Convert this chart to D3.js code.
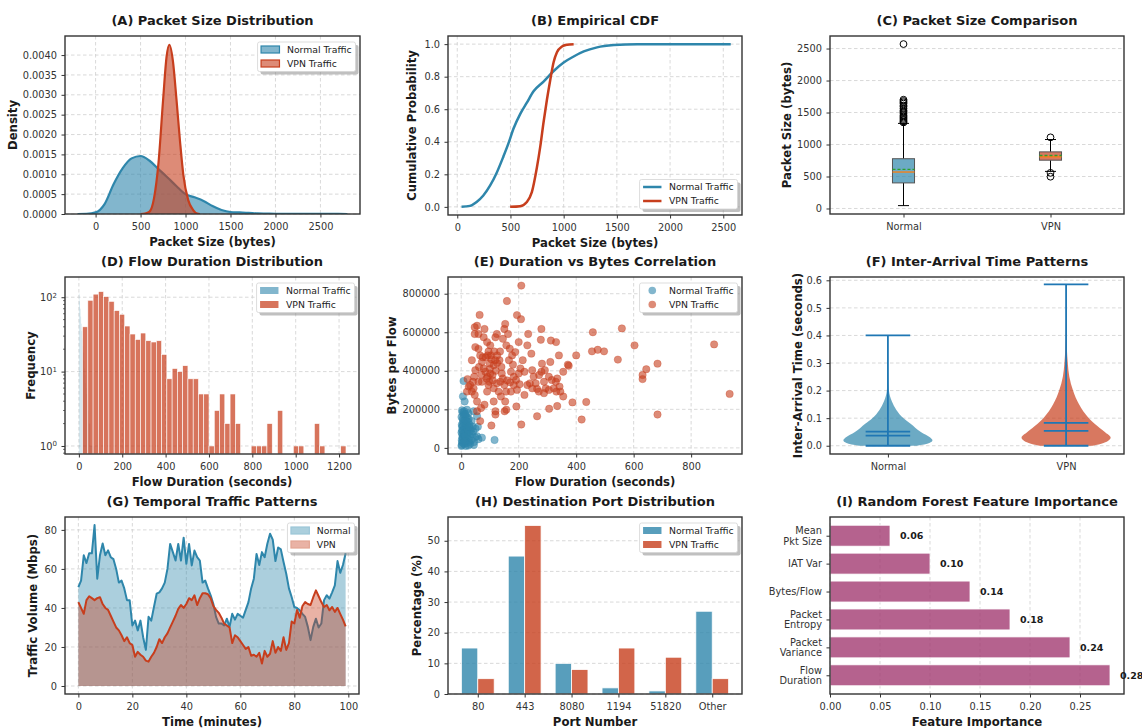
<!DOCTYPE html>
<html>
<head>
<meta charset="utf-8">
<script src="https://d3js.org/d3.v7.min.js"></script>
<style>
  body { margin: 0; background: #fff; }
  svg text { font-family: "DejaVu Sans", sans-serif; fill: #1a1a1a; }
  .title { font-size: 13px; font-weight: bold; }
  .xlab, .ylab { font-size: 11.7px; font-weight: bold; }
  .tick text { font-size: 9.8px; fill: #333; }
  .tick line { stroke: #333; }
  .grid line { stroke: #cfcfcf; stroke-dasharray: 3.5,2.5; stroke-width: 0.8; }
  .frame { fill: none; stroke: #333; stroke-width: 1.4; }
  .leg text { font-size: 9.3px; fill: #222; }
  .vlab { font-size: 9.5px; font-weight: bold; }
</style>
</head>
<body>
<svg id="fig" width="1142" height="728"></svg>
<script>
const normalColor = "#2E86AB", vpnColor = "#C73E1D", featColor = "#A23B72", violinLine = "#1f77b4";

// (A) packet size density (KDE)
const kdeNormX = [-200, -100, 0, 100, 200, 300, 400, 500, 600, 700, 800, 900, 1000, 1100, 1200, 1300, 1400, 1500, 1600, 1700, 1800, 1900, 2000, 2200, 2400, 2550, 2700, 2800];
const kdeNormY = [0, 0.000005, 0.00004, 0.00025, 0.00075, 0.00115, 0.0014, 0.00146, 0.00134, 0.00113, 0.00092, 0.0007, 0.0005, 0.00042, 0.00033, 0.0002, 0.0001, 0.00005, 0.00004, 0.00003, 0.000015, 0.00001, 0.000005, 0.000002, 0.000003, 0.000004, 0.000001, 0];
const kdeVpnX = [500, 550, 600, 650, 700, 750, 790, 820, 860, 900, 940, 975, 1030, 1085, 1130, 1160];
const kdeVpnY = [0, 0.00001, 0.00006, 0.0004, 0.0013, 0.00285, 0.00397, 0.00426, 0.00385, 0.00287, 0.0018, 0.001, 0.00035, 0.0001, 0.00001, 0];

// (B) empirical CDF
const cdfNormX = [40, 119, 182, 245, 308, 371, 434, 481, 528, 591, 654, 717, 811, 906, 1000, 1094, 1189, 1314, 1472, 1692, 2570];
const cdfNormY = [0, 0.006, 0.03, 0.07, 0.13, 0.21, 0.31, 0.39, 0.48, 0.57, 0.64, 0.71, 0.77, 0.835, 0.887, 0.924, 0.955, 0.98, 0.994, 1, 1];
const cdfVpnX = [497, 591, 654, 701, 748, 780, 811, 843, 874, 906, 937, 984, 1031, 1094];
const cdfVpnY = [0, 0.004, 0.03, 0.09, 0.24, 0.37, 0.52, 0.66, 0.78, 0.89, 0.95, 0.985, 0.996, 1];

// (C) box plot summary
const boxNames = ["Normal", "VPN"];
const boxQ1 = [400, 755];
const boxMedian = [570, 808];
const boxQ3 = [778, 885];
const boxMean = [612, 828];
const boxLow = [45, 580];
const boxHigh = [1330, 1078];
const outNormal = [1345, 1360, 1380, 1400, 1420, 1440, 1460, 1490, 1510, 1530, 1560, 1590, 1610, 1640, 1660, 1680, 1700, 2570];
const outVpn = [1112, 557, 497];

// (D) flow duration histograms (log counts)
const vpnDurStart = 17, vpnDurBin = 24.3;
const vpnDurCounts = [40, 91, 110, 119, 102, 88, 66, 59, 41, 32, 27, 33, 26, 25, 26, 17, 8, 11, 10, 12, 8, 8, 5, 5, 1,
  3, 5, 2, 5, 2, 0, 0, 1, 1, 1, 2, 0, 3, 0, 0, 1, 1, 0, 0, 2, 1, 0, 0, 0, 1];
const normDurStart = 0.1, normDurBin = 2.5;
const normDurCounts = [112, 88, 70, 55, 44, 35, 28, 22, 18, 14, 11, 9, 7, 6, 5, 4, 3, 3, 2, 2, 2, 1, 1, 1, 1, 0, 1, 0, 0, 1];

// (E) duration (s) vs bytes per flow (thousands of bytes)
const eNormX = [2, 3, 5, 4, 6, 3, 7, 5, 8, 4, 10, 12, 11, 14, 13, 15, 12, 16, 10, 18, 20, 22, 19, 21, 24, 20, 25, 28, 30, 27, 32, 29, 26, 35, 38, 34, 40, 36, 45, 48, 42, 50, 55, 60, 1, 2, 1, 2, 1, 3, 6, 8, 9, 7, 9, 16, 17, 23, 31, 44, 72, 116, 8, 6, 12, 55, 20, 43, 58, 25, 4, 6, 11, 14, 18, 3, 9, 13, 22, 27];
const eNormY = [15, 30, 50, 70, 90, 110, 130, 150, 170, 185, 20, 45, 65, 85, 105, 125, 145, 165, 190, 25, 55, 75, 95, 115, 135, 160, 180, 30, 60, 80, 100, 120, 150, 40, 70, 90, 110, 140, 30, 55, 85, 100, 60, 45, 10, 40, 80, 120, 160, 195, 25, 60, 100, 140, 180, 10, 35, 45, 20, 15, 53, 41, 347, 267, 241, 164, 198, 190, 110, 12, 55, 115, 35, 175, 140, 90, 75, 60, 95, 110];
const eVpnX = [209, 159, 64, 194, 208, 458, 559, 603, 880, 934, 683, 683, 644, 631, 631, 545, 455, 475, 497, 400, 387, 435, 419, 264, 306, 334, 209, 105, 374, 371, 355, 355, 342, 329, 315, 312, 330, 279, 277, 281, 279, 271, 270, 264, 247, 244, 233, 252, 220, 214, 220, 203, 191, 192, 180, 169, 163, 153, 157, 150, 145, 133, 136, 141, 150, 156, 153, 157, 151, 119, 119, 113, 113, 109, 113, 103, 101, 90, 81, 78, 60, 55, 47, 47, 49, 60, 66, 72, 78, 84, 72, 60, 49, 45, 37, 41, 43, 37, 47, 55, 55, 69, 81, 90, 95, 92, 124, 130, 138, 173, 183, 194, 200, 206, 183, 173, 166, 177, 188, 200, 230, 239, 230, 247, 259, 288, 294, 288, 305, 322, 345, 334, 305, 291, 310, 340, 331, 20, 26, 22, 31, 66, 124, 119, 99, 101, 98, 85, 95, 105, 115, 125, 100, 110, 120, 88, 70, 62, 140, 145, 160, 170, 125, 135, 118, 92, 75];
const eVpnY = [842, 762, 690, 689, 668, 600, 620, 532, 537, 280, 173, 437, 408, 378, 357, 458, 501, 509, 501, 480, 236, 238, 147, 164, 203, 217, 121, 116, 426, 432, 395, 267, 318, 343, 352, 557, 549, 617, 561, 437, 395, 378, 292, 306, 403, 489, 591, 370, 395, 455, 275, 330, 352, 215, 432, 515, 591, 643, 532, 617, 566, 455, 343, 386, 326, 292, 241, 198, 190, 190, 173, 241, 309, 378, 429, 480, 532, 549, 617, 574, 591, 634, 626, 591, 523, 514, 480, 446, 412, 395, 343, 343, 403, 369, 455, 343, 309, 292, 275, 241, 190, 207, 224, 292, 326, 369, 335, 292, 267, 292, 326, 301, 386, 412, 369, 395, 455, 480, 497, 549, 532, 335, 326, 309, 335, 343, 309, 284, 301, 309, 292, 360, 369, 403, 446, 480, 292, 292, 318, 357, 326, 139, 591, 574, 438, 386, 343, 470, 500, 460, 500, 480, 410, 350, 400, 360, 380, 420, 420, 360, 350, 340, 440, 500, 455, 480, 470];

// (F) violin outlines: relative density by inter-arrival time
const vioNormT = [0, 0.01, 0.02, 0.03, 0.05, 0.08, 0.1, 0.13, 0.16, 0.2, 0.25, 0.3, 0.35, 0.4];
const vioNormD = [0.65, 0.93, 1.0, 0.95, 0.74, 0.51, 0.35, 0.19, 0.09, 0.023, 0.009, 0.005, 0.002, 0.001];
const vioVpnT = [0, 0.01, 0.02, 0.03, 0.05, 0.08, 0.1, 0.15, 0.2, 0.25, 0.3, 0.35, 0.4, 0.45, 0.5, 0.585];
const vioVpnD = [0.6, 0.84, 0.96, 1.0, 0.87, 0.64, 0.51, 0.29, 0.156, 0.073, 0.038, 0.018, 0.007, 0.003, 0.001, 0.0];
const iatMin = [0, 0], iatMax = [0.4, 0.585], iatMedian = [0.037, 0.054], iatMean = [0.051, 0.083];

// (G) traffic volume per minute
const minutes = d3.range(100);
const normalTraffic = [50.7, 54, 67, 63, 68, 68, 82.5, 55, 67, 73,
  67, 69.5, 66, 65, 60, 53, 54, 50, 44, 44,
  31, 33.5, 28.5, 33.5, 25, 18.5, 35.5, 33.5, 40.5, 47.3,
  48, 50, 53, 60, 72.8, 68.6, 64.3, 72.8, 64.3, 76,
  62.6, 72.8, 61.8, 69.4, 66, 64.3, 53, 54, 50, 46.5,
  42, 35.4, 32, 32, 31, 34.5, 30.3, 37, 34, 37,
  36, 35, 39, 43, 50, 55, 67.7, 62, 68.6, 66,
  72.9, 78, 75, 64, 71, 70, 63.5, 57.5, 50, 45.6,
  40.5, 40, 38.8, 37, 35.4, 30.3, 23.5, 30.3, 34.5, 30,
  32, 44, 46.5, 44.8, 48, 51.6, 64, 58, 62, 68];
const vpnTraffic = [43, 40, 37, 44, 46, 45, 44, 45, 45.5, 42,
  40, 39, 36, 33, 30, 28.5, 26, 23, 25, 22,
  21, 15, 17.5, 16, 15, 13, 12.5, 15, 17, 20,
  24, 22, 25, 27, 30, 33, 36, 39.5, 41.5, 40,
  42, 45, 44, 46.5, 41.5, 45, 47.5, 47.5, 47, 45,
  41, 39, 37.5, 35, 32, 31, 30, 22, 26, 25,
  23, 21, 19, 20, 15.5, 16, 15, 17, 11.5, 18,
  15, 16.5, 23, 17, 20, 18, 25, 18.5, 22, 33,
  32, 39, 35, 41, 43, 42, 41.5, 45.5, 49, 46,
  43, 40.5, 41.5, 38.8, 40.5, 38, 40, 37, 34, 30.5];

// (H) destination ports
const ports = ["80", "443", "8080", "1194", "51820", "Other"];
const portNormal = [15, 45, 10, 2, 1, 27];
const portVpn = [5, 55, 8, 15, 12, 5];

// (I) feature importance (bottom to top)
const features = ["Flow\nDuration", "Packet\nVariance", "Packet\nEntropy", "Bytes/Flow", "IAT Var", "Mean\nPkt Size"];
const importance = [0.28, 0.24, 0.18, 0.14, 0.10, 0.06];

// ---------------------------------------------------------------
const svg = d3.select("#fig");

const rects = {
  A: [65, 36, 295, 178], B: [448, 36, 294, 179], C: [830, 36, 294, 178],
  D: [65, 277, 294, 177], E: [448, 277, 294, 177], F: [830, 277, 294, 177],
  G: [65, 517, 294, 177], H: [448, 517, 294, 177], I: [830, 517, 294, 177]
};

function makePanel(key, title, xlabel, ylabel, ylabOff) {
  const [x, y, w, h] = rects[key];
  const g = svg.append("g").attr("transform", `translate(${x},${y})`);
  g.append("clipPath").attr("id", "clip" + key).append("rect").attr("width", w).attr("height", h);
  const gridG = g.append("g").attr("class", "grid");
  const plot = g.append("g").attr("clip-path", `url(#clip${key})`);
  svg.append("text").attr("class", "title").attr("x", x + w / 2).attr("y", y - 11)
    .attr("text-anchor", "middle").text(title);
  if (xlabel) svg.append("text").attr("class", "xlab").attr("x", x + w / 2).attr("y", y + h + 31.5)
    .attr("text-anchor", "middle").text(xlabel);
  if (ylabel) svg.append("text").attr("class", "ylab")
    .attr("transform", `translate(${x - ylabOff},${y + h / 2}) rotate(-90)`)
    .attr("dy", "0.35em").attr("text-anchor", "middle").text(ylabel);
  return { g, gridG, plot, w, h };
}

function finish(p, x, y, xTicks, yTicks, xFmt, yFmt, gridX, gridY) {
  if (gridX) p.gridG.selectAll(".gx").data(xTicks).join("line").attr("class", "gx")
    .attr("x1", d => x(d)).attr("x2", d => x(d)).attr("y1", 0).attr("y2", p.h);
  if (gridY) p.gridG.selectAll(".gy").data(yTicks).join("line").attr("class", "gy")
    .attr("y1", d => y(d)).attr("y2", d => y(d)).attr("x1", 0).attr("x2", p.w);
  p.g.append("rect").attr("class", "frame").attr("width", p.w).attr("height", p.h);
  const xa = p.g.append("g").attr("transform", `translate(0,${p.h})`)
    .call(d3.axisBottom(x).tickValues(xTicks).tickFormat(xFmt).tickSize(3.5).tickPadding(6));
  const ya = p.g.append("g")
    .call(d3.axisLeft(y).tickValues(yTicks).tickFormat(yFmt).tickSize(3.5).tickPadding(4.5));
  xa.select(".domain").remove();
  ya.select(".domain").remove();
  return { xa, ya };
}

function legend(p, items, corner) {
  const lg = p.g.append("g").attr("class", "leg");
  const tmp = lg.append("g");
  const widths = items.map(it => {
    const t = tmp.append("text").text(it.label);
    return t.node().getComputedTextLength();
  });
  tmp.remove();
  const boxW = 3.5 + 18.4 + 7.5 + d3.max(widths) + 4;
  const boxH = items.length * 14 + 1.5;
  const bx = p.w - 4.5 - boxW;
  const by = corner === "top" ? 6 : p.h - 6 - boxH;
  lg.append("rect").attr("x", bx + 3).attr("y", by + 3).attr("width", boxW).attr("height", boxH)
    .attr("rx", 2).attr("fill", "#8c8c8c").attr("opacity", 0.55);
  lg.append("rect").attr("x", bx).attr("y", by).attr("width", boxW).attr("height", boxH)
    .attr("rx", 2).attr("fill", "#fff").attr("stroke", "#d4d4d4").attr("stroke-width", 0.8);
  items.forEach((it, i) => {
    const cy = by + 7.5 + i * 14;
    const hx = bx + 3.5;
    if (it.type === "line") {
      lg.append("line").attr("x1", hx).attr("x2", hx + 18.4).attr("y1", cy).attr("y2", cy)
        .attr("stroke", it.color).attr("stroke-width", 2.5);
    } else if (it.type === "dot") {
      lg.append("circle").attr("cx", hx + 9.2).attr("cy", cy).attr("r", 3.8)
        .attr("fill", it.color).attr("fill-opacity", it.opacity);
    } else {
      lg.append("rect").attr("x", hx).attr("y", cy - 3.5).attr("width", 18.4).attr("height", 7)
        .attr("fill", it.color).attr("fill-opacity", it.opacity)
        .attr("stroke", it.edge || "none").attr("stroke-width", 1.2);
    }
    lg.append("text").attr("x", hx + 18.4 + 7.5).attr("y", cy).attr("dy", "0.35em").text(it.label);
  });
}

// ---------------- (A) ----------------
{
  const p = makePanel("A", "(A) Packet Size Distribution", "Packet Size (bytes)", "Density", 52);
  const x = d3.scaleLinear().domain([-340, 2940]).range([0, p.w]);
  const y = d3.scaleLinear().domain([0, 0.00448]).range([p.h, 0]);
  const curves = [[kdeNormX, kdeNormY, normalColor], [kdeVpnX, kdeVpnY, vpnColor]];
  curves.forEach(([xs, ys, c]) => {
    const pts = xs.map((v, i) => [v, ys[i]]);
    p.plot.append("path").datum(pts)
      .attr("d", d3.area().x(d => x(d[0])).y0(y(0)).y1(d => y(d[1])).curve(d3.curveMonotoneX))
      .attr("fill", c).attr("fill-opacity", 0.6);
    p.plot.append("path").datum(pts)
      .attr("d", d3.line().x(d => x(d[0])).y(d => y(d[1])).curve(d3.curveMonotoneX))
      .attr("fill", "none").attr("stroke", c).attr("stroke-width", 2.2);
  });
  finish(p, x, y, d3.range(0, 2501, 500), d3.range(0, 0.00401, 0.0005), d3.format("d"), d3.format(".4f"), true, true);
  legend(p, [
    { label: "Normal Traffic", color: normalColor, opacity: 0.6, edge: normalColor },
    { label: "VPN Traffic", color: vpnColor, opacity: 0.6, edge: vpnColor }
  ], "top");
}

// ---------------- (B) ----------------
{
  const p = makePanel("B", "(B) Empirical CDF", "Packet Size (bytes)", "Cumulative Probability", 36.3);
  const x = d3.scaleLinear().domain([-87, 2676]).range([0, p.w]);
  const y = d3.scaleLinear().domain([-0.05, 1.05]).range([p.h, 0]);
  [[cdfNormX, cdfNormY, normalColor], [cdfVpnX, cdfVpnY, vpnColor]].forEach(([xs, ys, c]) => {
    const pts = xs.map((v, i) => [v, ys[i]]);
    p.plot.append("path").datum(pts)
      .attr("d", d3.line().x(d => x(d[0])).y(d => y(d[1])).curve(d3.curveMonotoneX))
      .attr("fill", "none").attr("stroke", c).attr("stroke-width", 2.5);
  });
  finish(p, x, y, d3.range(0, 2501, 500), d3.range(0, 1.01, 0.2), d3.format("d"), d3.format(".1f"), true, true);
  legend(p, [
    { label: "Normal Traffic", color: normalColor, type: "line" },
    { label: "VPN Traffic", color: vpnColor, type: "line" }
  ], "bottom");
}

// ---------------- (C) ----------------
{
  const p = makePanel("C", "(C) Packet Size Comparison", null, "Packet Size (bytes)", 43.3);
  const x = d3.scaleLinear().domain([0.5, 2.5]).range([0, p.w]);
  const y = d3.scaleLinear().domain([-86, 2696]).range([p.h, 0]);
  const half = (x(1.075) - x(1));
  const cap = half / 2;
  const fills = [normalColor, vpnColor];
  const outs = [outNormal, outVpn];
  boxNames.forEach((n, i) => {
    const cx = x(i + 1);
    p.plot.append("line").attr("x1", cx).attr("x2", cx).attr("y1", y(boxLow[i])).attr("y2", y(boxQ1[i])).attr("stroke", "#000").attr("stroke-width", 1);
    p.plot.append("line").attr("x1", cx).attr("x2", cx).attr("y1", y(boxQ3[i])).attr("y2", y(boxHigh[i])).attr("stroke", "#000").attr("stroke-width", 1);
    [boxLow[i], boxHigh[i]].forEach(v => p.plot.append("line").attr("x1", cx - cap).attr("x2", cx + cap)
      .attr("y1", y(v)).attr("y2", y(v)).attr("stroke", "#000").attr("stroke-width", 1));
    p.plot.append("rect").attr("x", cx - half).attr("width", 2 * half)
      .attr("y", y(boxQ3[i])).attr("height", y(boxQ1[i]) - y(boxQ3[i]))
      .attr("fill", fills[i]).attr("fill-opacity", 0.7).attr("stroke", "#555").attr("stroke-width", 1);
    p.plot.append("line").attr("x1", cx - half).attr("x2", cx + half).attr("y1", y(boxMedian[i])).attr("y2", y(boxMedian[i]))
      .attr("stroke", "#ff7f0e").attr("stroke-width", 1.3);
    p.plot.append("line").attr("x1", cx - half).attr("x2", cx + half).attr("y1", y(boxMean[i])).attr("y2", y(boxMean[i]))
      .attr("stroke", "#2ca02c").attr("stroke-width", 1.3).attr("stroke-dasharray", "3,2");
    p.plot.selectAll(null).data(outs[i]).join("circle")
      .attr("cx", cx).attr("cy", d => y(d)).attr("r", 3.4)
      .attr("fill", "none").attr("stroke", "#000").attr("stroke-width", 1);
  });
  finish(p, x, y, [1, 2], d3.range(0, 2501, 500), (d, i) => boxNames[i], d3.format("d"), false, true);
}

// ---------------- (D) ----------------
{
  const p = makePanel("D", "(D) Flow Duration Distribution", "Flow Duration (seconds)", "Frequency", 34.3);
  const x = d3.scaleLinear().domain([-64, 1292]).range([0, p.w]);
  const y = d3.scaleLog().domain([0.78, 187]).range([p.h, 0]);
  p.plot.selectAll(".nb").data(normDurCounts).join("rect")
    .attr("x", (d, i) => x(normDurStart + i * normDurBin)).attr("width", x(normDurBin) - x(0))
    .attr("y", d => d > 0 ? y(d) : p.h).attr("height", d => d > 0 ? p.h - y(d) : 0)
    .attr("fill", normalColor).attr("fill-opacity", 0.2);
  p.plot.selectAll(".vb").data(vpnDurCounts).join("rect")
    .attr("x", (d, i) => x(vpnDurStart + i * vpnDurBin)).attr("width", x(vpnDurBin) - x(0))
    .attr("y", d => d > 0 ? y(d) : p.h).attr("height", d => d > 0 ? p.h - y(d) : 0)
    .attr("fill", vpnColor).attr("fill-opacity", 0.72).attr("stroke", "#fff").attr("stroke-width", 0.6);
  const ax = finish(p, x, y, d3.range(0, 1201, 200), [1, 10, 100], d3.format("d"), () => "", true, true);
  ax.ya.selectAll(".tick text").each(function (d) {
    const t = d3.select(this);
    t.append("tspan").text("10");
    t.append("tspan").attr("dy", "-0.45em").attr("font-size", "7px").text(Math.round(Math.log10(d)));
  });
  const minors = [0.8, 0.9, 2, 3, 4, 5, 6, 7, 8, 9, 20, 30, 40, 50, 60, 70, 80, 90];
  p.g.selectAll(".minor").data(minors).join("line")
    .attr("x1", -2).attr("x2", 0).attr("y1", d => y(d)).attr("y2", d => y(d)).attr("stroke", "#333").attr("stroke-width", 0.7);
  legend(p, [
    { label: "Normal Traffic", color: normalColor, opacity: 0.6 },
    { label: "VPN Traffic", color: vpnColor, opacity: 0.72 }
  ], "top");
}

// ---------------- (E) ----------------
{
  const p = makePanel("E", "(E) Duration vs Bytes Correlation", "Flow Duration (seconds)", "Bytes per Flow", 56.3);
  const x = d3.scaleLinear().domain([-46, 977]).range([0, p.w]);
  const y = d3.scaleLinear().domain([-31.75, 886.75]).range([p.h, 0]);
  p.plot.selectAll(".np").data(eNormX).join("circle")
    .attr("cx", d => x(d)).attr("cy", (d, i) => y(eNormY[i])).attr("r", 3.7)
    .attr("fill", normalColor).attr("fill-opacity", 0.6)
    .attr("stroke", normalColor).attr("stroke-opacity", 0.5).attr("stroke-width", 0.6);
  p.plot.selectAll(".vp").data(eVpnX).join("circle")
    .attr("cx", d => x(d)).attr("cy", (d, i) => y(eVpnY[i])).attr("r", 3.7)
    .attr("fill", vpnColor).attr("fill-opacity", 0.6)
    .attr("stroke", vpnColor).attr("stroke-opacity", 0.5).attr("stroke-width", 0.6);
  finish(p, x, y, d3.range(0, 801, 200), d3.range(0, 801, 200), d3.format("d"), d => d3.format("d")(d * 1000), true, true);
  legend(p, [
    { label: "Normal Traffic", color: normalColor, opacity: 0.6, type: "dot" },
    { label: "VPN Traffic", color: vpnColor, opacity: 0.6, type: "dot" }
  ], "top");
}

// ---------------- (F) ----------------
{
  const p = makePanel("F", "(F) Inter-Arrival Time Patterns", null, "Inter-Arrival Time (seconds)", 32);
  const x = d3.scaleLinear().domain([0.675, 2.325]).range([0, p.w]);
  const y = d3.scaleLinear().domain([-0.03, 0.612]).range([p.h, 0]);
  const vio = [[vioNormT, vioNormD, normalColor], [vioVpnT, vioVpnD, vpnColor]];
  vio.forEach(([ts, ds, c], i) => {
    const pos = i + 1;
    const pts = ts.map((t, j) => [t, ds[j]]);
    p.plot.append("path").datum(pts)
      .attr("d", d3.area().y(d => y(d[0])).x0(d => x(pos - 0.25 * d[1])).x1(d => x(pos + 0.25 * d[1])).curve(d3.curveMonotoneY))
      .attr("fill", c).attr("fill-opacity", 0.7);
    const cx = x(pos), cw = x(pos + 0.125) - cx;
    p.plot.append("line").attr("x1", cx).attr("x2", cx).attr("y1", y(iatMin[i])).attr("y2", y(iatMax[i]))
      .attr("stroke", violinLine).attr("stroke-width", 1.8);
    [iatMin[i], iatMax[i], iatMedian[i], iatMean[i]].forEach(v => p.plot.append("line")
      .attr("x1", cx - cw).attr("x2", cx + cw).attr("y1", y(v)).attr("y2", y(v))
      .attr("stroke", violinLine).attr("stroke-width", 1.8));
  });
  finish(p, x, y, [1, 2], d3.range(0, 0.61, 0.1), (d, i) => boxNames[i], d3.format(".1f"), false, true);
}

// ---------------- (G) ----------------
{
  const p = makePanel("G", "(G) Temporal Traffic Patterns", "Time (minutes)", "Traffic Volume (Mbps)", 31.7);
  const x = d3.scaleLinear().domain([-4.95, 103.95]).range([0, p.w]);
  const y = d3.scaleLinear().domain([-4.1, 86.6]).range([p.h, 0]);
  [[normalTraffic, normalColor], [vpnTraffic, vpnColor]].forEach(([vals, c]) => {
    p.plot.append("path").datum(vals)
      .attr("d", d3.area().x((d, i) => x(minutes[i])).y0(y(0)).y1(d => y(d)))
      .attr("fill", c).attr("fill-opacity", 0.4);
    p.plot.append("path").datum(vals)
      .attr("d", d3.line().x((d, i) => x(minutes[i])).y(d => y(d)))
      .attr("fill", "none").attr("stroke", c).attr("stroke-width", 2).attr("stroke-linejoin", "round");
  });
  finish(p, x, y, d3.range(0, 101, 20), d3.range(0, 81, 20), d3.format("d"), d3.format("d"), true, true);
  legend(p, [
    { label: "Normal", color: normalColor, opacity: 0.4, edge: "#9cc6d8" },
    { label: "VPN", color: vpnColor, opacity: 0.4, edge: "#e3a593" }
  ], "top");
}

// ---------------- (H) ----------------
{
  const p = makePanel("H", "(H) Destination Port Distribution", "Port Number", "Percentage (%)", 31.3);
  const x = d3.scaleLinear().domain([-0.635, 5.635]).range([0, p.w]);
  const y = d3.scaleLinear().domain([0, 57.75]).range([p.h, 0]);
  const bw = 0.35;
  [[portNormal, normalColor, -bw / 2], [portVpn, vpnColor, bw / 2]].forEach(([vals, c, off]) => {
    p.plot.selectAll(null).data(vals).join("rect")
      .attr("x", (d, i) => x(i + off - bw / 2)).attr("width", x(bw) - x(0))
      .attr("y", d => y(d)).attr("height", d => p.h - y(d))
      .attr("fill", c).attr("fill-opacity", 0.8).attr("stroke", "#fff").attr("stroke-width", 0.8);
  });
  finish(p, x, y, d3.range(6), d3.range(0, 51, 10), (d, i) => ports[i], d3.format("d"), false, true);
  legend(p, [
    { label: "Normal Traffic", color: normalColor, opacity: 0.8 },
    { label: "VPN Traffic", color: vpnColor, opacity: 0.8 }
  ], "top");
}

// ---------------- (I) ----------------
{
  const p = makePanel("I", "(I) Random Forest Feature Importance", "Feature Importance", null, 0);
  const x = d3.scaleLinear().domain([0, 0.294]).range([0, p.w]);
  const y = d3.scaleLinear().domain([-0.67, 5.67]).range([p.h, 0]);
  const bh = 0.75;
  p.plot.selectAll(null).data(importance).join("rect")
    .attr("x", x(0)).attr("width", d => x(d) - x(0))
    .attr("y", (d, i) => y(i + bh / 2)).attr("height", y(0) - y(bh))
    .attr("fill", featColor).attr("fill-opacity", 0.8).attr("stroke", "#fff").attr("stroke-width", 0.8);
  const ax = finish(p, x, y, d3.range(0, 0.26, 0.05), d3.range(6), d3.format(".2f"), () => "", true, false);
  ax.ya.selectAll(".tick text").each(function (d) {
    const lines = features[d].split("\n");
    const t = d3.select(this).attr("dy", null);
    lines.forEach((ln, k) => t.append("tspan").attr("x", -8).attr("dy", k === 0 ? `${0.32 - (lines.length - 1) * 0.55}em` : "1.1em").text(ln));
  });
  importance.forEach((v, i) => {
    svg.append("text").attr("class", "vlab")
      .attr("x", rects.I[0] + x(v + 0.01)).attr("y", rects.I[1] + y(i)).attr("dy", "0.35em").text(v.toFixed(2));
  });
}
</script>
</body>
</html>
